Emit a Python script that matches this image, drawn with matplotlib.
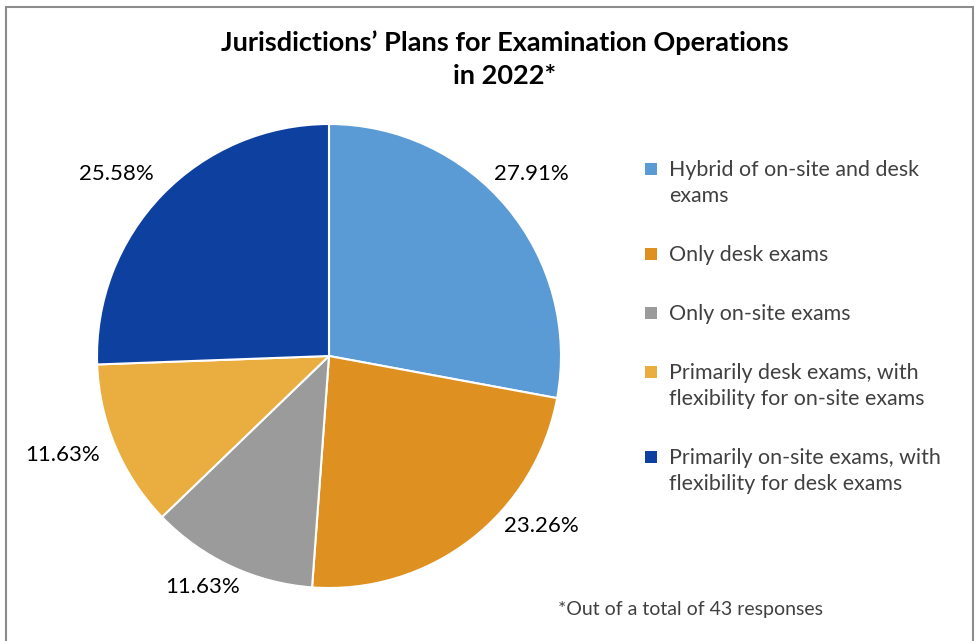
import matplotlib
matplotlib.use("Agg")
import matplotlib.pyplot as plt
from matplotlib.patches import Rectangle

categories = [
    "Hybrid of on-site and desk\nexams",
    "Only desk exams",
    "Only on-site exams",
    "Primarily desk exams, with\nflexibility for on-site exams",
    "Primarily on-site exams, with\nflexibility for desk exams",
]
counts = [12, 10, 5, 5, 11]
colors = ["#5B9BD5", "#DE9020", "#9B9B9B", "#E9AD40", "#0E40A0"]
title = "Jurisdictions\u2019 Plans for Examination Operations\nin 2022*"
footnote = "*Out of a total of 43 responses"

# label placement (layout, in pie-radius units, like Excel's "best fit")
label_pos = [(0.871, 0.784), (0.914, -0.733), (-0.543, -0.996),
             (-1.147, -0.427), (-0.918, 0.784)]

plt.rcParams['font.family'] = ['Lato', 'DejaVu Sans']

W, H = 976, 641
fig = plt.figure(figsize=(W / 100, H / 100), dpi=100)

# border
fig.patches.append(Rectangle((6 / W, -0.05), (973 - 6) / W, 1 - 7 / H + 0.05,
                             transform=fig.transFigure, fill=False,
                             edgecolor="#8C8C8C", linewidth=1.5))

cx, cy, r = 329, 356, 232
ax = fig.add_axes([(cx - r) / W, (H - cy - r) / H, 2 * r / W, 2 * r / H])
wedges, texts = ax.pie(
    counts, colors=colors, startangle=90, counterclock=False,
    wedgeprops=dict(edgecolor="white", linewidth=1.5),
    labels=[f"{c / sum(counts) * 100:.2f}%" for c in counts],
    labeldistance=1.19,
    textprops=dict(fontsize=16, color="black"),
)
for t, (px, py) in zip(texts, label_pos):
    t.set_position((px, py))
    t.set_ha("center")
    t.set_va("center")
ax.set_xlim(-1, 1)
ax.set_ylim(-1, 1)
ax.set_aspect("equal")

fig.text(505 / W, 1 - 43 / H, title.split("\n")[0], ha="center", va="center",
         fontsize=19.5, fontweight="bold")
fig.text(505 / W, 1 - 76 / H, title.split("\n")[1], ha="center", va="center",
         fontsize=19.5, fontweight="bold")

# manual legend
line_h = 26
y = 168
for lab, col in zip(categories, colors):
    lines = lab.split("\n")
    fig.patches.append(Rectangle((645 / W, 1 - (y + 7) / H), 12 / W, 12 / H,
                                 transform=fig.transFigure,
                                 facecolor=col, edgecolor="none"))
    for i, ln in enumerate(lines):
        fig.text(669 / W, 1 - (y + 2 + i * line_h) / H, ln, ha="left", va="center",
                 fontsize=15.4, color="#404040")
    y += len(lines) * line_h + 33

fig.text(558 / W, 1 - 610 / H, footnote, ha="left", va="center",
         fontsize=14, color="#404040")

fig.savefig("out.png", dpi=100)
